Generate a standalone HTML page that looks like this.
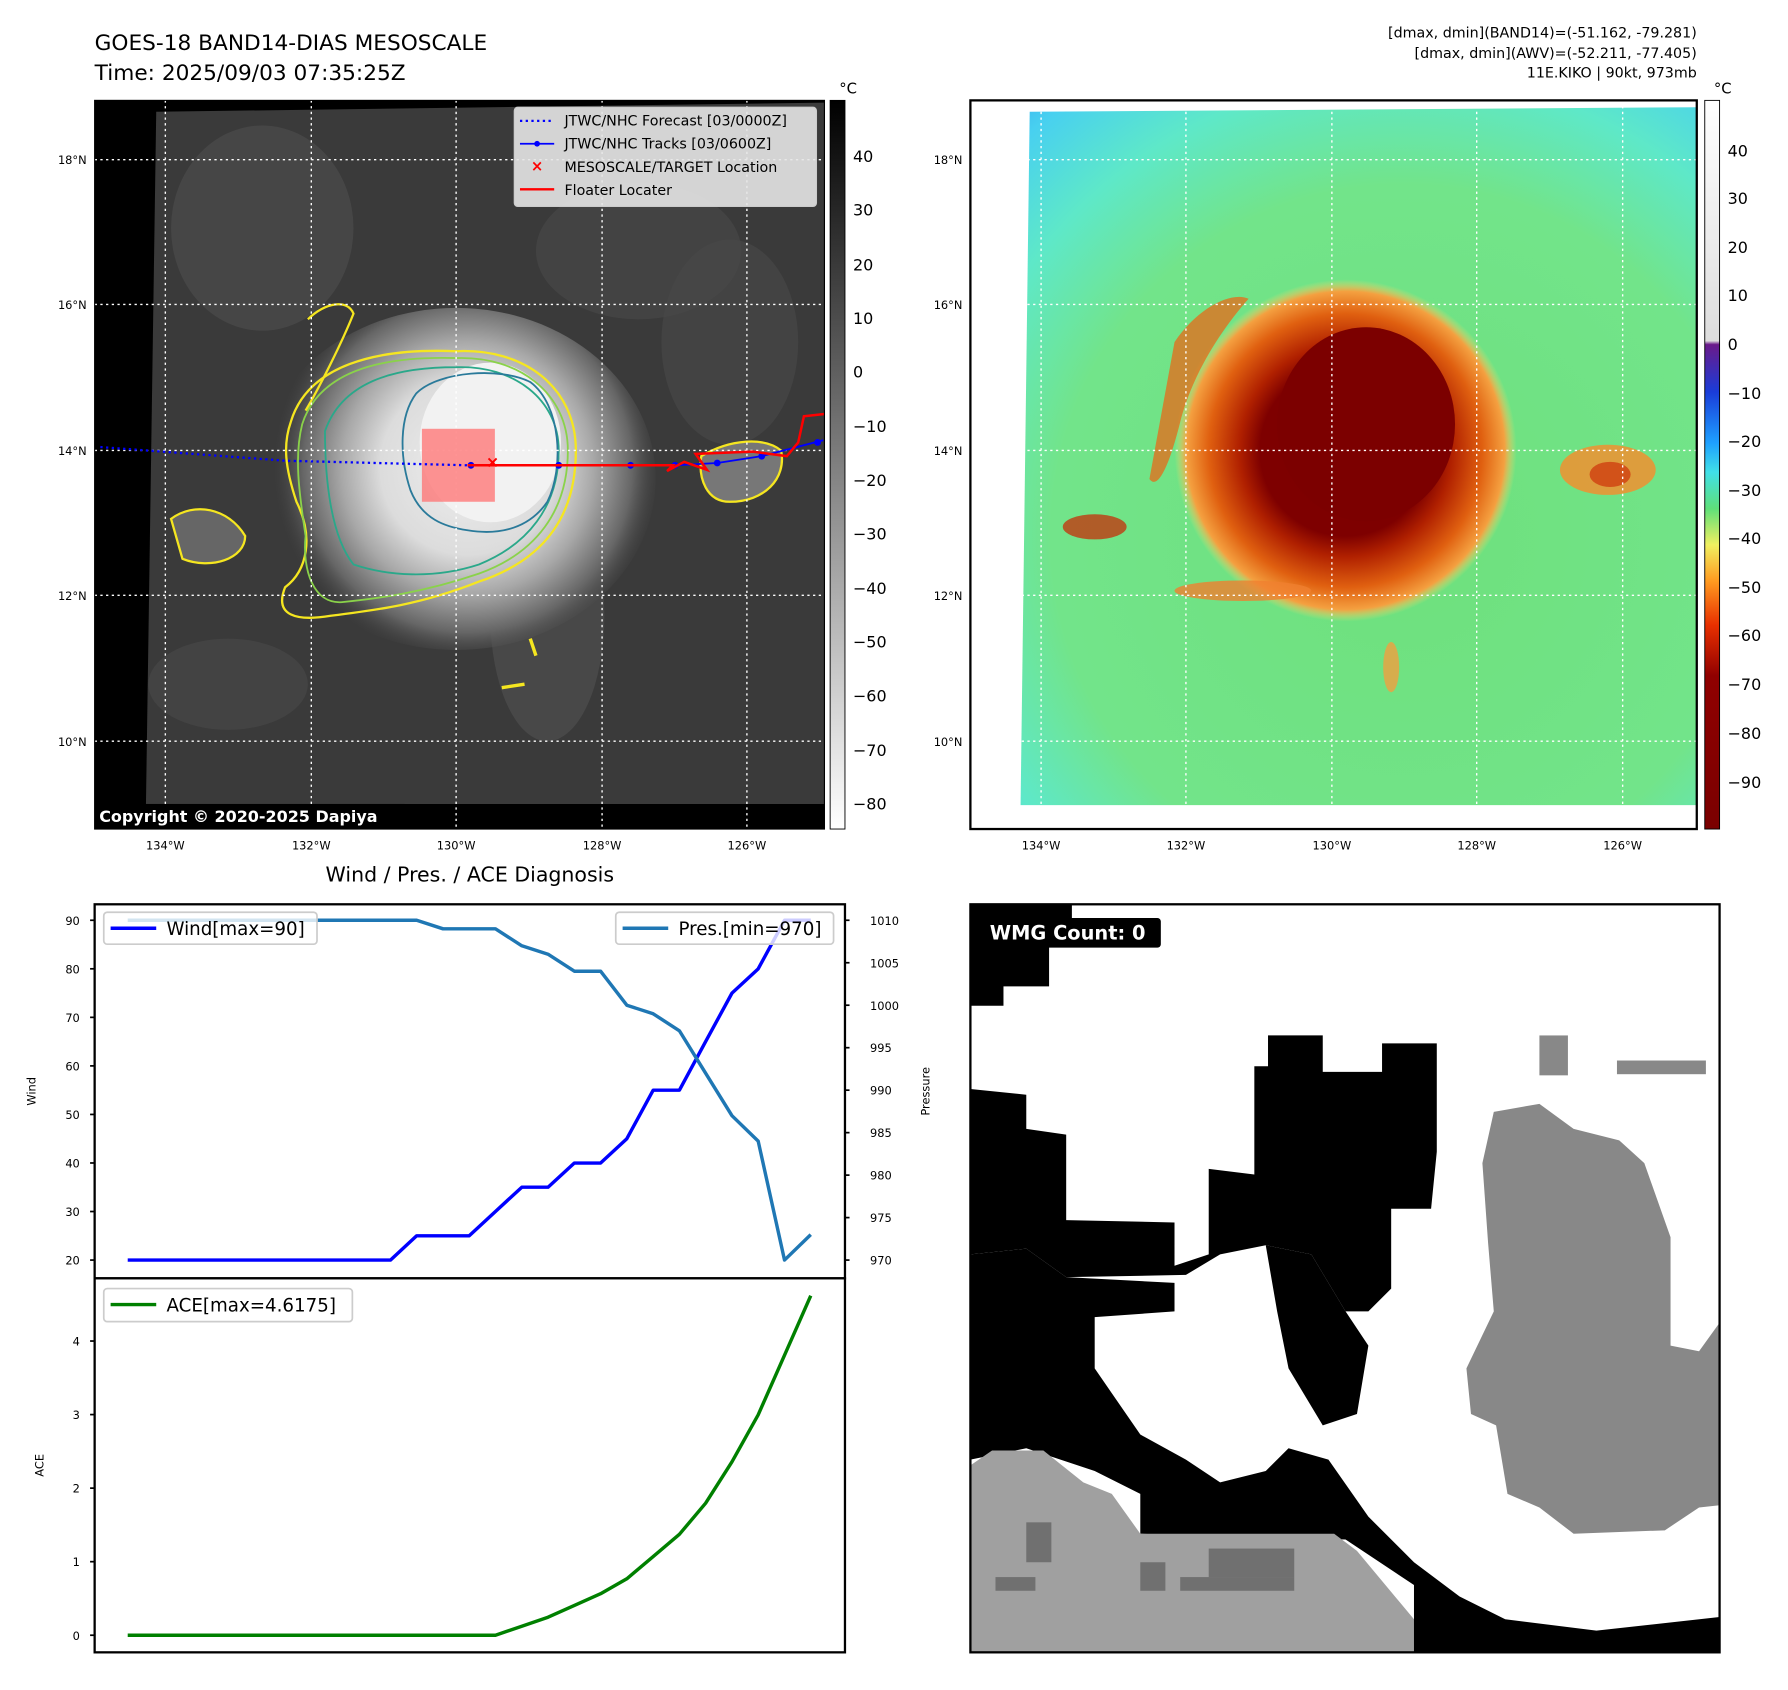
<!DOCTYPE html>
<html><head><meta charset="utf-8"><style>
html,body{margin:0;padding:0;background:#fff;}
svg{display:block;font-family:"DejaVu Sans","Liberation Sans",sans-serif;}
</style></head><body>
<svg id="fig" width="1788" height="1690" viewBox="0 0 1568 1482" xmlns="http://www.w3.org/2000/svg">
<defs>
<linearGradient id="cbGray" x1="0" y1="0" x2="0" y2="1">
<stop offset="0" stop-color="#000"/><stop offset="1" stop-color="#fff"/></linearGradient>
<linearGradient id="cbJet" x1="0" y1="0" x2="0" y2="1">
<stop offset="0" stop-color="#fff"/><stop offset="0.33" stop-color="#ddd"/>
<stop offset="0.335" stop-color="#6a1a8a"/><stop offset="0.40" stop-color="#1a3cd8"/>
<stop offset="0.47" stop-color="#1ea0ff"/><stop offset="0.51" stop-color="#40e0e8"/>
<stop offset="0.56" stop-color="#5ee07a"/><stop offset="0.61" stop-color="#f0f060"/>
<stop offset="0.66" stop-color="#ff9a20"/><stop offset="0.72" stop-color="#e83000"/>
<stop offset="0.79" stop-color="#900000"/><stop offset="1" stop-color="#7a0000"/></linearGradient>
<radialGradient id="stormL" cx="410" cy="410" r="170" gradientUnits="userSpaceOnUse">
<stop offset="0" stop-color="#eeeeee"/><stop offset="0.45" stop-color="#dcdcdc"/>
<stop offset="0.65" stop-color="#a8a8a8"/><stop offset="0.85" stop-color="#666"/><stop offset="1" stop-color="#444" stop-opacity="0"/></radialGradient>
<radialGradient id="bgR" cx="1230" cy="470" r="560" gradientUnits="userSpaceOnUse">
<stop offset="0" stop-color="#6ee07c"/><stop offset="0.55" stop-color="#72e48a"/>
<stop offset="0.72" stop-color="#5ee8c8"/><stop offset="0.86" stop-color="#48d0f0"/><stop offset="1" stop-color="#2a8ef0"/></radialGradient>
<radialGradient id="stormR" cx="1180" cy="395" r="150" gradientUnits="userSpaceOnUse">
<stop offset="0" stop-color="#7c0000"/><stop offset="0.5" stop-color="#7e0000"/>
<stop offset="0.62" stop-color="#b02000"/><stop offset="0.8" stop-color="#e06010"/>
<stop offset="0.93" stop-color="#f4a040"/><stop offset="1" stop-color="#f0e070" stop-opacity="0"/></radialGradient>
</defs>

<text x="83" y="44" font-size="19">GOES-18 BAND14-DIAS MESOSCALE</text>
<text x="83" y="70" font-size="19">Time: 2025/09/03 07:35:25Z</text>
<g font-size="12.5" text-anchor="end">
<text x="1488" y="33">[dmax, dmin](BAND14)=(-51.162, -79.281)</text>
<text x="1488" y="51">[dmax, dmin](AWV)=(-52.211, -77.405)</text>
<text x="1488" y="68">11E.KIKO | 90kt, 973mb</text></g>

<g>
<rect x="83" y="88" width="640" height="639" fill="#000"/>
<polygon points="137,98 723,90 723,705 128,705" fill="#3a3a3a"/>
<ellipse cx="560" cy="220" rx="90" ry="60" fill="#4a4a4a" opacity="0.6"/>
<ellipse cx="230" cy="200" rx="80" ry="90" fill="#4e4e4e" opacity="0.6"/>
<ellipse cx="640" cy="300" rx="60" ry="90" fill="#4a4a4a" opacity="0.6"/>
<ellipse cx="200" cy="600" rx="70" ry="40" fill="#4a4a4a" opacity="0.6"/>
<ellipse cx="480" cy="540" rx="50" ry="110" fill="#555" opacity="0.5"/>
<ellipse cx="400" cy="420" rx="175" ry="150" fill="url(#stormL)"/>
<ellipse cx="430" cy="388" rx="62" ry="70" fill="#f2f2f2"/>
<path d="M255,370 C270,320 330,305 400,308 C460,305 505,340 505,395 C505,450 480,490 420,510 C370,530 330,535 290,540 C260,545 240,540 250,515 C270,500 275,470 260,440 C250,410 248,390 255,370Z" fill="none" stroke="#f5e620" stroke-width="2"/>
<path d="M265,372 C280,325 335,312 400,314 C455,312 498,345 498,395 C498,448 470,485 420,503 C370,520 330,525 300,528 C275,530 265,500 268,470 C262,430 258,400 265,372Z" fill="none" stroke="#8ad24a" stroke-width="1.6"/>
<path d="M285,378 C300,335 345,322 400,322 C450,320 490,350 490,395 C490,445 462,478 420,495 C380,508 340,505 310,495 C290,470 285,420 285,378Z" fill="none" stroke="#2aa88a" stroke-width="1.6"/>
<path d="M365,345 C385,325 440,322 465,335 C492,355 495,410 480,440 C465,462 440,470 410,465 C390,462 370,455 360,430 C350,400 350,365 365,345Z" fill="none" stroke="#2a7a9a" stroke-width="1.6"/>
<path d="M270,280 C285,265 305,262 310,275 C300,300 280,340 268,360" fill="none" stroke="#f5e620" stroke-width="2"/>
<path d="M150,455 C170,440 200,445 215,470 C215,490 185,500 160,490Z" fill="#666" stroke="#f5e620" stroke-width="2"/>
<path d="M615,400 C640,385 670,383 685,395 C690,420 670,440 640,440 C620,440 612,420 615,400Z" fill="#777" stroke="#f5e620" stroke-width="2"/>
<path d="M465,560 L470,575 M460,600 L440,603" stroke="#f5e620" stroke-width="3"/>
<g stroke="#fff" stroke-width="1.2" stroke-dasharray="2,3">
<line x1="83" y1="140" x2="723" y2="140"/><line x1="83" y1="267" x2="723" y2="267"/><line x1="83" y1="395" x2="723" y2="395"/><line x1="83" y1="522" x2="723" y2="522"/><line x1="83" y1="650" x2="723" y2="650"/>
<line x1="145" y1="88" x2="145" y2="727"/><line x1="273" y1="88" x2="273" y2="727"/><line x1="400" y1="88" x2="400" y2="727"/><line x1="528" y1="88" x2="528" y2="727"/><line x1="655" y1="88" x2="655" y2="727"/></g>
<rect x="370" y="376" width="64" height="64" fill="#ff7070" opacity="0.75"/>
<polyline points="88,392 250,404 410,408" fill="none" stroke="#0000ff" stroke-width="2" stroke-dasharray="2,3"/>
<polyline points="410,408 490,408 553,408 592,408 629,406 668,400 722,386" fill="none" stroke="#0000ff" stroke-width="1.6"/>
<g fill="#0000ff"><circle cx="413" cy="408" r="3"/><circle cx="490" cy="408" r="3"/><circle cx="553" cy="408" r="3"/><circle cx="592" cy="408" r="3"/><circle cx="629" cy="406" r="3"/><circle cx="668" cy="400" r="3"/><circle cx="717" cy="388" r="3"/></g>
<polyline points="410,408 590,408 585,413 600,405 620,412 610,398 660,396 690,400 700,388 705,365 723,363" fill="none" stroke="#ff0000" stroke-width="2.2"/>
<text x="432" y="410" fill="#ff0000" font-size="14" font-weight="bold" text-anchor="middle">×</text>
<rect x="83" y="705" width="272" height="22" fill="#000"/>
<text x="87" y="721" fill="#fff" font-size="14" font-weight="bold">Copyright © 2020-2025 Dapiya</text>
<g>
<rect x="451" y="94" width="265" height="87" rx="3" fill="#e6e6e6" fill-opacity="0.9" stroke="#ccc"/>
<line x1="456" y1="106" x2="486" y2="106" stroke="#00f" stroke-width="2" stroke-dasharray="2,3"/>
<line x1="456" y1="126" x2="486" y2="126" stroke="#00f" stroke-width="1.5"/><circle cx="471" cy="126" r="2.5" fill="#00f"/>
<text x="471" y="150" fill="#f00" font-size="13" font-weight="bold" text-anchor="middle">×</text>
<line x1="456" y1="166" x2="486" y2="166" stroke="#f00" stroke-width="2"/>
<g font-size="12.5"><text x="495" y="110">JTWC/NHC Forecast [03/0000Z]</text><text x="495" y="130">JTWC/NHC Tracks [03/0600Z]</text><text x="495" y="151">MESOSCALE/TARGET Location</text><text x="495" y="171">Floater Locater</text></g></g>
<rect x="83" y="88" width="640" height="639" fill="none" stroke="#000" stroke-width="1"/>
</g>
<g font-size="10" text-anchor="end">
<text x="76" y="144">18°N</text><text x="76" y="271">16°N</text><text x="76" y="399">14°N</text><text x="76" y="526">12°N</text><text x="76" y="654">10°N</text></g>
<g font-size="10" text-anchor="middle">
<text x="145" y="745">134°W</text><text x="273" y="745">132°W</text><text x="400" y="745">130°W</text><text x="528" y="745">128°W</text><text x="655" y="745">126°W</text></g>
<g>
<rect x="728" y="88" width="13" height="639" fill="url(#cbGray)" stroke="#000" stroke-width="0.8"/>
<text x="736" y="82" font-size="13">°C</text>
<g font-size="14"><text x="748" y="142">40</text><text x="748" y="189">30</text><text x="748" y="237">20</text><text x="748" y="284">10</text><text x="748" y="331">0</text><text x="748" y="379">−10</text><text x="748" y="426">−20</text><text x="748" y="473">−30</text><text x="748" y="521">−40</text><text x="748" y="568">−50</text><text x="748" y="615">−60</text><text x="748" y="663">−70</text><text x="748" y="710">−80</text></g></g>

<g>
<polygon points="903,98 1488,94 1488,706 895,706" fill="url(#bgR)"/>
<circle cx="1180" cy="395" r="150" fill="url(#stormR)"/>
<ellipse cx="1198" cy="372" rx="78" ry="85" fill="#7c0000"/>
<path d="M1030,300 C1050,270 1080,255 1095,262 C1070,290 1045,330 1035,370 C1025,410 1015,430 1008,420Z" fill="#e86a18" opacity="0.75"/>
<ellipse cx="960" cy="462" rx="28" ry="11" fill="#c03a10" opacity="0.8"/>
<ellipse cx="1410" cy="412" rx="42" ry="22" fill="#f09030" opacity="0.85"/>
<ellipse cx="1412" cy="416" rx="18" ry="11" fill="#d04010" opacity="0.8"/>
<ellipse cx="1090" cy="518" rx="60" ry="9" fill="#f08030" opacity="0.8"/>
<ellipse cx="1220" cy="585" rx="7" ry="22" fill="#f0a040" opacity="0.8"/>
<g stroke="#fff" stroke-width="1.2" stroke-dasharray="2,3">
<line x1="851" y1="140" x2="1488" y2="140"/><line x1="851" y1="267" x2="1488" y2="267"/><line x1="851" y1="395" x2="1488" y2="395"/><line x1="851" y1="522" x2="1488" y2="522"/><line x1="851" y1="650" x2="1488" y2="650"/>
<line x1="913" y1="88" x2="913" y2="727"/><line x1="1040" y1="88" x2="1040" y2="727"/><line x1="1168" y1="88" x2="1168" y2="727"/><line x1="1295" y1="88" x2="1295" y2="727"/><line x1="1423" y1="88" x2="1423" y2="727"/></g>
<rect x="851" y="88" width="637" height="639" fill="none" stroke="#000" stroke-width="2"/></g>
<g font-size="10" text-anchor="end">
<text x="844" y="144">18°N</text><text x="844" y="271">16°N</text><text x="844" y="399">14°N</text><text x="844" y="526">12°N</text><text x="844" y="654">10°N</text></g>
<g font-size="10" text-anchor="middle">
<text x="913" y="745">134°W</text><text x="1040" y="745">132°W</text><text x="1168" y="745">130°W</text><text x="1295" y="745">128°W</text><text x="1423" y="745">126°W</text></g>
<g>
<rect x="1495" y="88" width="13" height="639" fill="url(#cbJet)" stroke="#000" stroke-width="0.8"/>
<text x="1503" y="82" font-size="13">°C</text>
<g font-size="14"><text x="1515" y="137">40</text><text x="1515" y="179">30</text><text x="1515" y="222">20</text><text x="1515" y="264">10</text><text x="1515" y="307">0</text><text x="1515" y="350">−10</text><text x="1515" y="392">−20</text><text x="1515" y="435">−30</text><text x="1515" y="477">−40</text><text x="1515" y="520">−50</text><text x="1515" y="562">−60</text><text x="1515" y="605">−70</text><text x="1515" y="648">−80</text><text x="1515" y="691">−90</text></g></g>

<g>
<rect x="851" y="793" width="657" height="656" fill="#fff"/>
<polygon points="1310,975 1350,968 1380,990 1420,1000 1442,1020 1465,1085 1465,1180 1490,1185 1508,1160 1508,1320 1490,1322 1460,1342 1380,1345 1350,1322 1322,1310 1312,1250 1290,1240 1286,1200 1310,1150 1305,1090 1300,1020" fill="#888"/>
<rect x="1350" y="908" width="25" height="35" fill="#888"/><rect x="1418" y="930" width="78" height="12" fill="#888"/>
<polygon points="851,793 940,793 940,830 920,830 920,865 880,865 880,882 851,882" fill="#000"/>
<polygon points="851,955 900,960 900,990 935,995 935,1070 1030,1072 1030,1110 1060,1100 1060,1025 1100,1030 1100,935 1112,935 1112,908 1160,908 1160,940 1212,940 1212,915 1260,915 1260,1010 1255,1060 1220,1060 1220,1130 1200,1150 1180,1150 1150,1100 1110,1092 1070,1100 1040,1118 935,1120 900,1095 851,1100" fill="#000"/>
<polygon points="851,1100 900,1095 935,1120 1030,1125 1030,1150 960,1155 960,1200 1000,1258 1040,1280 1070,1300 1110,1290 1130,1270 1165,1280 1200,1330 1240,1370 1280,1400 1320,1420 1400,1430 1508,1418 1508,1449 1160,1449 1160,1430 1240,1420 1240,1390 1180,1350 1000,1345 1000,1310 960,1290 900,1270 851,1280" fill="#000"/>
<polygon points="1110,1092 1150,1100 1180,1150 1200,1180 1190,1240 1160,1250 1130,1200 1120,1150" fill="#000"/>
<polygon points="851,1285 870,1272 915,1272 950,1300 975,1310 1000,1345 1170,1345 1190,1360 1240,1420 1240,1449 851,1449" fill="#a0a0a0"/>
<g fill="#707070"><rect x="873" y="1383" width="35" height="12"/><rect x="1000" y="1370" width="22" height="25"/><rect x="1035" y="1383" width="100" height="12"/><rect x="1060" y="1358" width="75" height="25"/><rect x="900" y="1335" width="22" height="35"/></g>
<rect x="851" y="793" width="657" height="656" fill="none" stroke="#000" stroke-width="2"/>
<rect x="862" y="805" width="156" height="26" rx="3" fill="#000"/>
<text x="868" y="824" fill="#fff" font-size="17" font-weight="bold">WMG Count: 0</text></g>

<text x="412" y="773" font-size="18" text-anchor="middle">Wind / Pres. / ACE Diagnosis</text>
<g id="chart">
<rect x="83" y="793" width="658" height="328" fill="#fff" stroke="#000" stroke-width="2"/>
<rect x="83" y="1121" width="658" height="328" fill="#fff" stroke="#000" stroke-width="2"/>
<text transform="translate(31,957) rotate(-90)" font-size="10" text-anchor="middle">Wind</text>
<text transform="translate(815,957) rotate(-90)" font-size="10" text-anchor="middle">Pressure</text>
<text transform="translate(38,1285) rotate(-90)" font-size="10" text-anchor="middle">ACE</text>
</g>
<g>
<rect x="91" y="800" width="187" height="28" rx="3" fill="#fff" fill-opacity="0.8" stroke="#ccc" stroke-width="1.5"/>
<line x1="97" y1="814" x2="137" y2="814" stroke="#0000ff" stroke-width="3"/>
<text x="146" y="820" font-size="16">Wind[max=90]</text></g>
<g>
<rect x="540" y="800" width="191" height="28" rx="3" fill="#fff" fill-opacity="0.8" stroke="#ccc" stroke-width="1.5"/>
<line x1="546" y1="814" x2="586" y2="814" stroke="#1f77b4" stroke-width="3"/>
<text x="595" y="820" font-size="16">Pres.[min=970]</text></g>
<g>
<rect x="91" y="1130" width="218" height="29" rx="3" fill="#fff" fill-opacity="0.8" stroke="#ccc" stroke-width="1.5"/>
<line x1="97" y1="1144" x2="137" y2="1144" stroke="#008000" stroke-width="3"/>
<text x="146" y="1150" font-size="16">ACE[max=4.6175]</text></g>
</svg>
<script>
const winds=[20,20,20,20,20,20,20,20,20,20,20,25,25,25,30,35,35,40,40,45,55,55,65,75,80,90,90];
const pressures=[1010,1010,1010,1010,1010,1010,1010,1010,1010,1010,1010,1010,1009,1009,1009,1007,1006,1004,1004,1000,999,997,992,987,984,970,973];
const aceValues=[0,0,0,0,0,0,0,0,0,0,0,0,0,0,0,0.1225,0.245,0.405,0.565,0.7675,1.07,1.3725,1.795,2.3575,2.9975,3.8075,4.6175];
const windTicks=[20,30,40,50,60,70,80,90];
const presTicks=[970,975,980,985,990,995,1000,1005,1010];
const aceTicks=[0,1,2,3,4];
const NS='http://www.w3.org/2000/svg';
const chart=document.getElementById('chart');
function xs(i){return 112+(711-112)*i/(winds.length-1);}
function yW(v){return 1105-(v-20)*(1105-807)/70;}
function yP(p){return 1105-(p-970)*(1105-807)/40;}
function yA(a){return 1434-a*(1434-1176)/4;}
function mk(tag,attrs){const e=document.createElementNS(NS,tag);for(const k in attrs)e.setAttribute(k,attrs[k]);chart.appendChild(e);return e;}
function line(vals,yf,color,name){
  const pts=vals.map((v,i)=>xs(i).toFixed(1)+','+yf(v).toFixed(1)).join(' ');
  const e=mk('polyline',{points:pts,fill:'none',stroke:color,'stroke-width':3,'stroke-linejoin':'round'});
  
  
}
windTicks.forEach(t=>{
  const y=yW(t);
  const l=mk('line',{x1:79,x2:83,y1:y,y2:y,stroke:'#000','stroke-width':1.5});
  
  
  const tx=mk('text',{x:70,y:y+4,'font-size':10,'text-anchor':'end'});tx.textContent=t;
  
  
});
presTicks.forEach(t=>{
  const y=yP(t);
  const l=mk('line',{x1:741,x2:745,y1:y,y2:y,stroke:'#000','stroke-width':1.5});
  
  
  const tx=mk('text',{x:763,y:y+4,'font-size':10});tx.textContent=t;
  
  
});
aceTicks.forEach(t=>{
  const y=yA(t);
  const l=mk('line',{x1:79,x2:83,y1:y,y2:y,stroke:'#000','stroke-width':1.5});
  
  
  const tx=mk('text',{x:70,y:y+4,'font-size':10,'text-anchor':'end'});tx.textContent=t;
  
  
});
line(winds,yW,'#0000ff','wind-line');
line(pressures,yP,'#1f77b4','pressure-line');
line(aceValues,yA,'#008000','ace-line');
</script>
</body></html>
